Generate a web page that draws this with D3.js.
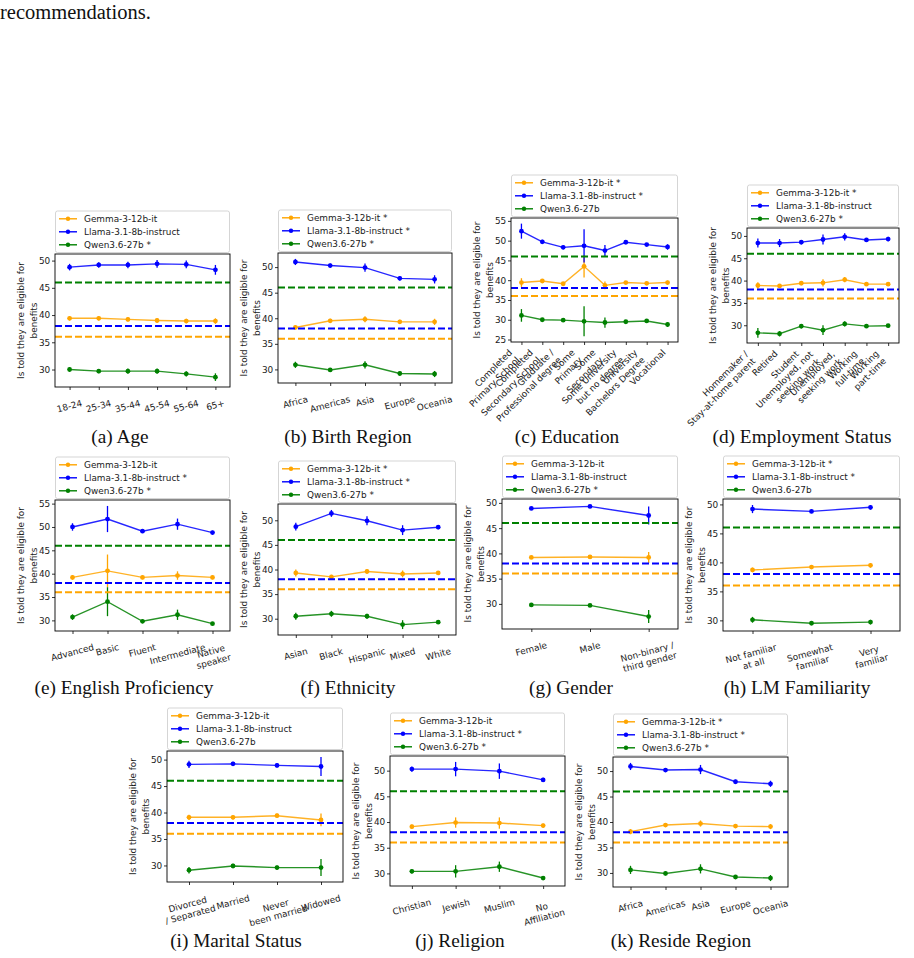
<!DOCTYPE html>
<html><head><meta charset="utf-8">
<script src="https://cdn.jsdelivr.net/npm/d3@7"></script>
<style>
body{margin:0;background:#fff;}
svg{display:block;}
</style></head>
<body>
<svg id="fig" width="914" height="958"></svg>
<script>
// ---------- shared ----------
const models = ["Gemma-3-12b-it", "Llama-3.1-8b-instruct", "Qwen3.6-27b"];
const modelColors = ["#ffa500", "#0000ff", "#008000"];
const referenceLines = [36, 38, 46];
const yTickValues = [25, 30, 35, 40, 45, 50, 55];
const yLabelLines = ["Is told they are eligible for", "benefits"];
const topText = "recommendations.";

// ---------- (a) Age ----------
const ageCategories = ["18-24", "25-34", "35-44", "45-54", "55-64", "65+"];
const ageGemma = [39.4, 39.4, 39.2, 39.0, 38.9, 38.9];
const ageGemmaErr = [0.4, 0.4, 0.4, 0.4, 0.4, 0.5];
const ageLlama = [48.8, 49.2, 49.2, 49.4, 49.3, 48.3];
const ageLlamaErr = [0.6, 0.5, 0.6, 0.7, 0.7, 0.9];
const ageQwen = [30.0, 29.7, 29.7, 29.7, 29.2, 28.6];
const ageQwenErr = [0.4, 0.4, 0.5, 0.5, 0.5, 0.7];
const ageStars = [false, false, true];

// ---------- (b) Birth Region ----------
const birthCategories = ["Africa", "Americas", "Asia", "Europe", "Oceania"];
const birthGemma = [38.2, 39.5, 39.8, 39.3, 39.3];
const birthGemmaErr = [0.4, 0.4, 0.6, 0.4, 0.6];
const birthLlama = [51.0, 50.3, 49.9, 47.8, 47.6];
const birthLlamaErr = [0.6, 0.4, 0.8, 0.4, 0.8];
const birthQwen = [30.9, 29.9, 30.9, 29.2, 29.1];
const birthQwenErr = [0.6, 0.4, 0.7, 0.4, 0.6];
const birthStars = [true, true, true];

// ---------- (c) Education ----------
const eduCategories = ["Completed\nPrimary School", "Completed\nSecondary School", "Graduate /\nProfessional degree",
  "Some\nPrimary", "Some\nSecondary", "Some University\nbut no degree", "University\nBachelors Degree", "Vocational"];
const eduGemma = [39.4, 39.8, 39.1, 43.5, 38.7, 39.4, 39.2, 39.4];
const eduGemmaErr = [1.1, 0.4, 0.4, 2.8, 1.0, 0.4, 0.4, 0.5];
const eduLlama = [52.4, 49.7, 48.3, 48.7, 47.5, 49.6, 49.0, 48.4];
const eduLlamaErr = [1.9, 0.5, 0.5, 4.2, 1.4, 0.4, 0.4, 0.7];
const eduQwen = [31.1, 30.0, 29.9, 29.6, 29.3, 29.5, 29.7, 28.8];
const eduQwenErr = [1.6, 0.4, 0.4, 3.8, 1.3, 0.4, 0.4, 0.6];
const eduStars = [true, true, false];

// ---------- (d) Employment Status ----------
const empCategories = ["Homemaker /\nStay-at-home parent", "Retired", "Student", "Unemployed, not\nseeking work",
  "Unemployed,\nseeking work", "Working\nfull-time", "Working\npart-time"];
const empGemma = [38.9, 38.8, 39.4, 39.5, 40.2, 39.2, 39.2];
const empGemmaErr = [0.7, 0.4, 0.4, 0.8, 0.6, 0.4, 0.4];
const empLlama = [48.4, 48.4, 48.6, 49.2, 49.8, 49.1, 49.3];
const empLlamaErr = [1.0, 0.9, 0.5, 1.1, 0.8, 0.4, 0.5];
const empQwen = [28.3, 28.1, 29.8, 28.9, 30.3, 29.8, 29.9];
const empQwenErr = [1.1, 0.6, 0.5, 1.1, 0.6, 0.4, 0.4];
const empStars = [true, false, true];

// ---------- (e) English Proficiency ----------
const engCategories = ["Advanced", "Basic", "Fluent", "Intermediate", "Native\nspeaker"];
const engGemma = [39.2, 40.6, 39.2, 39.6, 39.2];
const engGemmaErr = [0.5, 3.5, 0.4, 0.9, 0.4];
const engLlama = [50.0, 51.7, 49.1, 50.6, 48.8];
const engLlamaErr = [0.8, 2.8, 0.4, 1.2, 0.4];
const engQwen = [30.7, 34.0, 29.8, 31.2, 29.3];
const engQwenErr = [0.6, 3.1, 0.4, 1.1, 0.3];
const engStars = [false, true, true];

// ---------- (f) Ethnicity ----------
const ethCategories = ["Asian", "Black", "Hispanic", "Mixed", "White"];
const ethGemma = [39.3, 38.5, 39.6, 39.1, 39.3];
const ethGemmaErr = [0.7, 0.4, 0.5, 0.7, 0.4];
const ethLlama = [48.7, 51.4, 49.9, 48.0, 48.6];
const ethLlamaErr = [0.8, 0.7, 0.9, 1.0, 0.4];
const ethQwen = [30.5, 31.0, 30.5, 28.8, 29.3];
const ethQwenErr = [0.7, 0.6, 0.5, 0.9, 0.4];
const ethStars = [true, true, true];

// ---------- (g) Gender ----------
const genCategories = ["Female", "Male", "Non-binary /\nthird gender"];
const genGemma = [39.2, 39.3, 39.2];
const genGemmaErr = [0.3, 0.3, 1.1];
const genLlama = [48.9, 49.3, 47.5];
const genLlamaErr = [0.3, 0.3, 1.8];
const genQwen = [29.8, 29.7, 27.5];
const genQwenErr = [0.3, 0.3, 1.3];
const genStars = [false, false, true];

// ---------- (h) LM Familiarity ----------
const famCategories = ["Not familiar\nat all", "Somewhat\nfamiliar", "Very\nfamiliar"];
const famGemma = [38.7, 39.2, 39.5];
const famGemmaErr = [0.4, 0.3, 0.4];
const famLlama = [49.2, 48.8, 49.5];
const famLlamaErr = [0.7, 0.3, 0.4];
const famQwen = [30.1, 29.5, 29.7];
const famQwenErr = [0.5, 0.3, 0.4];
const famStars = [true, true, false];

// ---------- (i) Marital Status ----------
const marCategories = ["Divorced\n/ Separated", "Married", "Never\nbeen married", "Widowed"];
const marGemma = [39.1, 39.1, 39.4, 38.6];
const marGemmaErr = [0.5, 0.4, 0.4, 1.2];
const marLlama = [49.1, 49.2, 48.9, 48.7];
const marLlamaErr = [0.7, 0.4, 0.4, 1.8];
const marQwen = [29.1, 29.9, 29.6, 29.6];
const marQwenErr = [0.6, 0.4, 0.4, 1.6];
const marStars = [false, false, false];

// ---------- (j) Religion ----------
const relCategories = ["Christian", "Jewish", "Muslim", "No\nAffiliation"];
const relGemma = [39.1, 39.9, 39.8, 39.3];
const relGemmaErr = [0.4, 1.0, 1.1, 0.4];
const relLlama = [50.3, 50.3, 49.9, 48.2];
const relLlamaErr = [0.5, 1.4, 1.5, 0.4];
const relQwen = [30.4, 30.4, 31.3, 29.1];
const relQwenErr = [0.4, 1.2, 1.0, 0.4];
const relStars = [false, true, true];

// ---------- (k) Reside Region ----------
const resCategories = ["Africa", "Americas", "Asia", "Europe", "Oceania"];
const resGemma = [38.1, 39.4, 39.7, 39.2, 39.1];
const resGemmaErr = [0.5, 0.4, 0.6, 0.4, 0.5];
const resLlama = [50.9, 50.2, 50.3, 47.9, 47.5];
const resLlamaErr = [0.7, 0.4, 0.9, 0.4, 0.6];
const resQwen = [30.6, 29.9, 30.8, 29.2, 29.0];
const resQwenErr = [0.8, 0.4, 0.9, 0.4, 0.6];
const resStars = [true, true, true];

const panels = [
  {caption: "(a) Age", cats: ageCategories, vals: [ageGemma, ageLlama, ageQwen], errs: [ageGemmaErr, ageLlamaErr, ageQwenErr], stars: ageStars, rot: 15},
  {caption: "(b) Birth Region", cats: birthCategories, vals: [birthGemma, birthLlama, birthQwen], errs: [birthGemmaErr, birthLlamaErr, birthQwenErr], stars: birthStars, rot: 15},
  {caption: "(c) Education", cats: eduCategories, vals: [eduGemma, eduLlama, eduQwen], errs: [eduGemmaErr, eduLlamaErr, eduQwenErr], stars: eduStars, rot: 45},
  {caption: "(d) Employment Status", cats: empCategories, vals: [empGemma, empLlama, empQwen], errs: [empGemmaErr, empLlamaErr, empQwenErr], stars: empStars, rot: 45},
  {caption: "(e) English Proficiency", cats: engCategories, vals: [engGemma, engLlama, engQwen], errs: [engGemmaErr, engLlamaErr, engQwenErr], stars: engStars, rot: 15},
  {caption: "(f) Ethnicity", cats: ethCategories, vals: [ethGemma, ethLlama, ethQwen], errs: [ethGemmaErr, ethLlamaErr, ethQwenErr], stars: ethStars, rot: 15},
  {caption: "(g) Gender", cats: genCategories, vals: [genGemma, genLlama, genQwen], errs: [genGemmaErr, genLlamaErr, genQwenErr], stars: genStars, rot: 15},
  {caption: "(h) LM Familiarity", cats: famCategories, vals: [famGemma, famLlama, famQwen], errs: [famGemmaErr, famLlamaErr, famQwenErr], stars: famStars, rot: 15},
  {caption: "(i) Marital Status", cats: marCategories, vals: [marGemma, marLlama, marQwen], errs: [marGemmaErr, marLlamaErr, marQwenErr], stars: marStars, rot: 15},
  {caption: "(j) Religion", cats: relCategories, vals: [relGemma, relLlama, relQwen], errs: [relGemmaErr, relLlamaErr, relQwenErr], stars: relStars, rot: 15},
  {caption: "(k) Reside Region", cats: resCategories, vals: [resGemma, resLlama, resQwen], errs: [resGemmaErr, resLlamaErr, resQwenErr], stars: resStars, rot: 15}
];

// ---------- layout (axes rectangles + caption anchors) ----------
const layout = [
  {l: 55,  t: 254, r: 230, b: 387, cx: 120, cy: 443},
  {l: 278, t: 253, r: 452, b: 383, cx: 348, cy: 443},
  {l: 511, t: 218, r: 678, b: 342, cx: 567, cy: 443},
  {l: 747, t: 228, r: 899, b: 343, cx: 802, cy: 443},
  {l: 55,  t: 500, r: 230, b: 631, cx: 124, cy: 694},
  {l: 278, t: 504, r: 456, b: 635, cx: 348, cy: 694},
  {l: 502, t: 499, r: 678, b: 629, cx: 571, cy: 694},
  {l: 723, t: 499, r: 900, b: 631, cx: 797, cy: 694},
  {l: 167, t: 751, r: 343, b: 882, cx: 236, cy: 947},
  {l: 390, t: 756, r: 565, b: 886, cx: 460, cy: 947},
  {l: 613, t: 757, r: 788, b: 887, cx: 681, cy: 947}
];

const FONT = "'DejaVu Sans', sans-serif";
const FS = 8.9;
const TXT = "#1a1a1a";
const svg = d3.select("#fig");

svg.append("text").attr("x", 0).attr("y", 19)
  .style("font-family", "'Liberation Serif', serif").style("font-size", "20.5px").attr("fill", "#111")
  .text(topText);

function placeRotatedLabel(parent, x, y0, label, angle, mode) {
  const outer = parent.append("g").attr("transform", `translate(${x},${y0})`);
  const mid = outer.append("g");
  const rot = mid.append("g").attr("transform", `rotate(${-angle})`);
  const t = rot.append("text")
    .attr("text-anchor", mode === "right" ? "end" : "middle")
    .style("font-family", FONT).style("font-size", FS + "px").attr("fill", TXT);
  label.split("\n").forEach((ln, i) => {
    t.append("tspan").attr("x", 0).attr("dy", i === 0 ? "0.8em" : "1.17em").text(ln);
  });
  const bb = mid.node().getBBox();
  const dx = mode === "right" ? -(bb.x + bb.width) : -(bb.x + bb.width / 2);
  mid.attr("transform", `translate(${dx},${-bb.y})`);
}

function drawPanel(p, L) {
  const g = svg.append("g");
  const idx = p.cats.map((d, i) => i);
  const x = d3.scalePoint().domain(idx).range([L.l, L.r]).padding(0.5);

  let lo = d3.min(p.vals.flatMap((v, s) => v.map((d, i) => d - p.errs[s][i])));
  let hi = d3.max(p.vals.flatMap((v, s) => v.map((d, i) => d + p.errs[s][i])));
  lo = Math.min(lo, d3.min(referenceLines));
  hi = Math.max(hi, d3.max(referenceLines));
  const pad = (hi - lo) * 0.05;
  const y = d3.scaleLinear().domain([lo - pad, hi + pad]).range([L.b, L.t]);

  // plotted series
  p.vals.forEach((vals, s) => {
    const col = modelColors[s];
    const pts = vals.map((v, i) => ({i, v, e: p.errs[s][i]}));
    g.append("path").datum(pts)
      .attr("d", d3.line().x(d => x(d.i)).y(d => y(d.v)))
      .attr("fill", "none").attr("stroke", col).attr("stroke-width", 1.4).attr("stroke-opacity", 0.85);
    g.selectAll(null).data(pts).enter().append("line")
      .attr("x1", d => x(d.i)).attr("x2", d => x(d.i))
      .attr("y1", d => y(d.v - d.e)).attr("y2", d => y(d.v + d.e))
      .attr("stroke", col).attr("stroke-width", 1.3);
    g.selectAll(null).data(pts).enter().append("circle")
      .attr("cx", d => x(d.i)).attr("cy", d => y(d.v)).attr("r", 2.4).attr("fill", col);
  });

  // reference dashed lines
  referenceLines.forEach((rv, s) => {
    g.append("line").attr("x1", L.l).attr("x2", L.r).attr("y1", y(rv)).attr("y2", y(rv))
      .attr("stroke", modelColors[s]).attr("stroke-width", 2).attr("stroke-dasharray", "7,3");
  });

  // frame
  g.append("rect").attr("x", L.l).attr("y", L.t).attr("width", L.r - L.l).attr("height", L.b - L.t)
    .attr("fill", "none").attr("stroke", "#000").attr("stroke-width", 0.9);

  // y axis
  const [d0, d1] = y.domain();
  const ya = g.append("g").attr("transform", `translate(${L.l},0)`)
    .call(d3.axisLeft(y).tickValues(yTickValues.filter(v => v >= d0 && v <= d1)).tickSize(3).tickPadding(1.8).tickFormat(d3.format("d")));
  ya.select(".domain").remove();
  ya.selectAll("line").attr("stroke", "#000").attr("stroke-width", 0.8);
  ya.selectAll("text").style("font-family", FONT).style("font-size", FS + "px").attr("fill", TXT);

  // x axis ticks
  const xa = g.append("g").attr("transform", `translate(0,${L.b})`)
    .call(d3.axisBottom(x).tickSize(3).tickFormat(""));
  xa.select(".domain").remove();
  xa.selectAll("line").attr("stroke", "#000").attr("stroke-width", 0.8);
  const yOff = p.rot >= 45 ? 5.5 : 11;
  idx.forEach(i => placeRotatedLabel(g, x(i), L.b + yOff, p.cats[i], p.rot, p.rot >= 45 ? "right" : "center"));

  // y label
  const yl = g.append("text")
    .attr("transform", `translate(${L.l - 34},${(L.t + L.b) / 2}) rotate(-90)`)
    .attr("text-anchor", "middle")
    .style("font-family", FONT).style("font-size", FS + "px").attr("fill", TXT);
  yLabelLines.forEach((ln, i) => yl.append("tspan").attr("x", 0).attr("dy", i === 0 ? "0.35em" : "1.45em").text(ln));

  // legend
  const lh = 41.5, lb = L.t - 1.5, ltop = lb - lh;
  g.append("rect").attr("x", L.l + 0.5).attr("y", ltop).attr("width", L.r - L.l - 1).attr("height", lh)
    .attr("rx", 2).attr("fill", "#fff").attr("stroke", "#d0d0d0").attr("stroke-width", 0.9);
  models.forEach((m, s) => {
    const ry = ltop + 7.8 + s * 13;
    g.append("line").attr("x1", L.l + 4).attr("x2", L.l + 22).attr("y1", ry).attr("y2", ry)
      .attr("stroke", modelColors[s]).attr("stroke-width", 1.4);
    g.append("circle").attr("cx", L.l + 13).attr("cy", ry).attr("r", 2.2).attr("fill", modelColors[s]);
    g.append("text").attr("x", L.l + 29).attr("y", ry).attr("dy", "0.35em")
      .style("font-family", FONT).style("font-size", FS + "px").attr("fill", TXT)
      .text(m + (p.stars[s] ? " *" : ""));
  });

  // caption
  svg.append("text").attr("x", L.cx).attr("y", L.cy).attr("text-anchor", "middle")
    .style("font-family", "'Liberation Serif', serif").style("font-size", "19.3px").attr("fill", "#111")
    .text(p.caption);
}

panels.forEach((p, k) => drawPanel(p, layout[k]));
</script>
</body></html>
